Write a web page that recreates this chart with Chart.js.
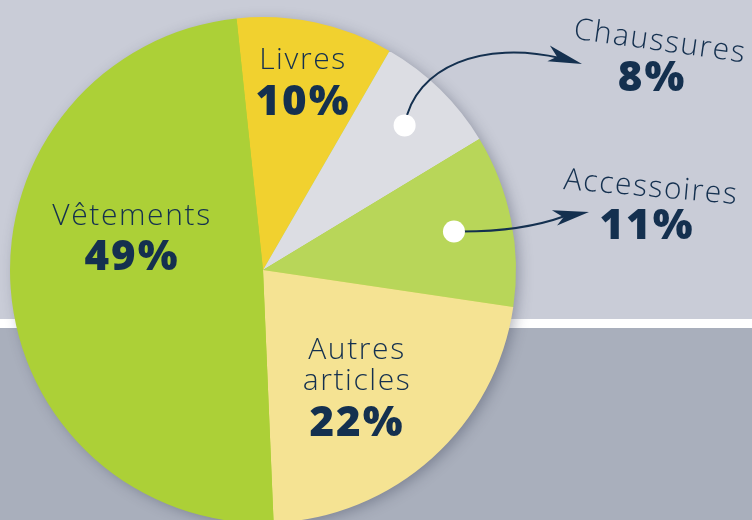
<!DOCTYPE html>
<html>
<head>
<meta charset="utf-8">
<script src="https://cdn.jsdelivr.net/npm/chart.js@4.4.0/dist/chart.umd.min.js"></script>
<style>
  html, body { margin: 0; padding: 0; overflow: hidden; background: #c9ccd7; }
  #wrap { width: 752px; height: 530px; }
</style>
</head>
<body>
<div id="wrap"><canvas id="pie"></canvas></div>
<script>
const categories = ['Livres', 'Chaussures', 'Accessoires', 'Autres articles', 'Vêtements'];
const shares = [10, 8, 11, 22, 49];
const sliceColors = ['#f1d12f', '#dcdde3', '#b8d659', '#f5e393', '#acd037'];

const navy = '#14304f';
const lightFont = '300 30px "Open Sans", "Noto Sans", sans-serif';
const boldFont = '800 42px "Open Sans", "Noto Sans", sans-serif';

// background: two bands split by a white line
const backdrop = {
    id: 'backdrop',
    beforeDraw(chart) {
        const ctx = chart.ctx;
        ctx.save();
        ctx.fillStyle = '#c9ccd7';
        ctx.fillRect(0, 0, chart.width, 320);
        ctx.fillStyle = '#ffffff';
        ctx.fillRect(0, 319, chart.width, 9);
        ctx.fillStyle = '#a9afbc';
        ctx.fillRect(0, 328, chart.width, chart.height - 328);
        ctx.restore();
    },
    beforeDatasetsDraw(chart) {
        const arc = chart.getDatasetMeta(0).data[0];
        const ctx = chart.ctx;
        ctx.save();
        ctx.shadowColor = 'rgba(40, 45, 70, 0.35)';
        ctx.shadowBlur = 14;
        ctx.shadowOffsetX = 4;
        ctx.shadowOffsetY = 3;
        ctx.fillStyle = '#acd037';
        ctx.beginPath();
        ctx.arc(arc.x, arc.y, arc.outerRadius - 1, 0, Math.PI * 2);
        ctx.fill();
        ctx.restore();
    }
};

function setLight(ctx) {
    ctx.font = lightFont;
    ctx.letterSpacing = '1.6px';
}

function setBold(ctx) {
    ctx.font = boldFont;
    ctx.letterSpacing = '2px';
}

function pointAt(arc, frac) {
    const mid = (arc.startAngle + arc.endAngle) / 2;
    const r = arc.outerRadius * frac;
    return { x: arc.x + Math.cos(mid) * r, y: arc.y + Math.sin(mid) * r };
}

function arrowHead(ctx, tipX, tipY, angle) {
    ctx.save();
    ctx.translate(tipX, tipY);
    ctx.rotate(angle);
    ctx.beginPath();
    ctx.moveTo(0, 0);
    ctx.lineTo(-36, -9);
    ctx.lineTo(-26, 0);
    ctx.lineTo(-34, 7);
    ctx.closePath();
    ctx.fill();
    ctx.restore();
}

const labels = {
    id: 'labels',
    afterDatasetsDraw(chart) {
        const ctx = chart.ctx;
        const arcs = chart.getDatasetMeta(0).data;
        ctx.save();
        ctx.fillStyle = navy;
        ctx.textAlign = 'center';
        ctx.textBaseline = 'middle';

        // Livres
        let p = pointAt(arcs[0], 0.76);
        setLight(ctx);
        ctx.fillText(categories[0], p.x, p.y - 21);
        setBold(ctx);
        ctx.fillText(shares[0] + '%', p.x, p.y + 21);

        // Vêtements
        setLight(ctx);
        ctx.fillText(categories[4], 132, 216);
        setBold(ctx);
        ctx.fillText(shares[4] + '%', 132, 258);

        // Autres articles
        setLight(ctx);
        ctx.fillText('Autres', 357, 350);
        ctx.fillText('articles', 357, 381);
        setBold(ctx);
        ctx.fillText(shares[3] + '%', 357, 424);

        // Chaussures (outside, rotated)
        ctx.save();
        ctx.translate(660, 42);
        ctx.rotate(8 * Math.PI / 180);
        setLight(ctx);
        ctx.fillText(categories[1], 0, 0);
        ctx.restore();
        setBold(ctx);
        ctx.fillText(shares[1] + '%', 652, 79);

        // Accessoires (outside, rotated)
        ctx.save();
        ctx.translate(651, 188);
        ctx.rotate(5 * Math.PI / 180);
        setLight(ctx);
        ctx.fillText(categories[2], 0, 0);
        ctx.restore();
        setBold(ctx);
        ctx.fillText(shares[2] + '%', 647, 227);

        // pointers
        const d1 = pointAt(arcs[1], 0.8);
        const d2 = pointAt(arcs[2], 0.77);
        ctx.strokeStyle = navy;
        ctx.lineWidth = 2;
        ctx.beginPath();
        ctx.moveTo(d1.x, d1.y);
        ctx.bezierCurveTo(d1.x + 10, d1.y - 60, d1.x + 80, d1.y - 85, 560, 58);
        ctx.stroke();
        arrowHead(ctx, 582, 64, 0.28);

        ctx.beginPath();
        ctx.moveTo(d2.x, d2.y);
        ctx.quadraticCurveTo(520, d2.y + 1, 565, 216);
        ctx.stroke();
        arrowHead(ctx, 589, 212, -0.2);

        ctx.fillStyle = '#ffffff';
        [d1, d2].forEach(d => {
            ctx.beginPath();
            ctx.arc(d.x, d.y, 11, 0, Math.PI * 2);
            ctx.fill();
        });
        ctx.restore();
    }
};

new Chart(document.getElementById('pie'), {
    type: 'pie',
    data: {
        labels: categories,
        datasets: [{
            data: shares,
            backgroundColor: sliceColors,
            borderWidth: 0
        }]
    },
    options: {
        responsive: true,
        maintainAspectRatio: false,
        animation: false,
        rotation: -6,
        layout: { padding: { left: 10, right: 236, top: 17, bottom: 7 } },
        plugins: {
            legend: { display: false },
            tooltip: { enabled: false }
        }
    },
    plugins: [backdrop, labels]
});
</script>
</body>
</html>
